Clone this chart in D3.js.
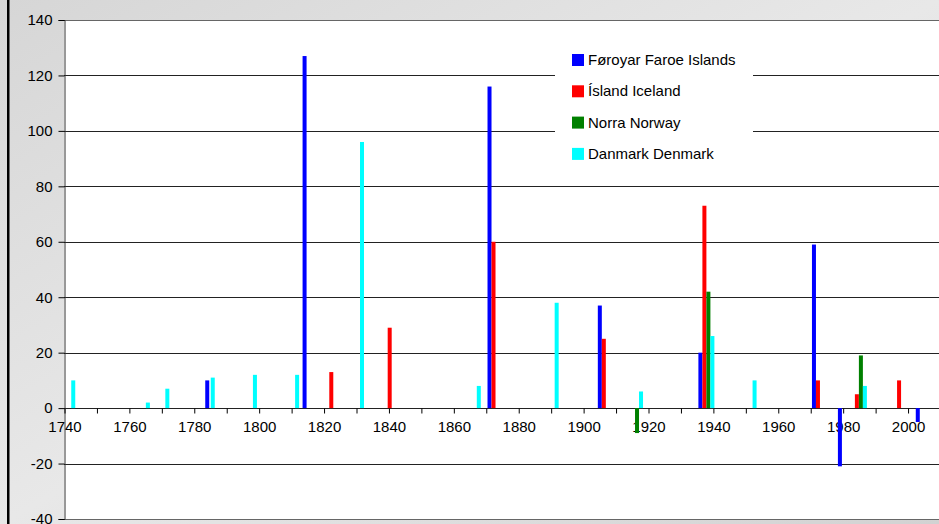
<!DOCTYPE html>
<html>
<head>
<meta charset="utf-8">
<script src="https://cdn.jsdelivr.net/npm/d3@7"></script>
<style>
  body { margin: 0; background: #e4e4e4; }
  svg { display: block; font-family: "Liberation Sans", Arial, sans-serif; }
</style>
</head>
<body>
<svg width="939" height="524"></svg>
<script>
// Data: year and value for each country series
var seriesNames = ["Føroyar Faroe Islands", "Ísland Iceland", "Norra Norway", "Danmark Denmark"];
var seriesColors = ["#0000ff", "#ff0000", "#008000", "#00ffff"];

var faroeYears  = [1786, 1816, 1873, 1907, 1938, 1973, 1981, 2005];
var faroeValues = [10, 127, 116, 37, 20, 59, -21, -5];

var icelandYears  = [1823, 1841, 1873, 1907, 1938, 1973, 1985, 1998];
var icelandValues = [13, 29, 60, 25, 73, 10, 5, 10];

var norwayYears  = [1916, 1938, 1985];
var norwayValues = [-9, 42, 19];

var denmarkYears  = [1741, 1764, 1770, 1784, 1797, 1810, 1830, 1866, 1890, 1916, 1938, 1951, 1985];
var denmarkValues = [10, 2, 7, 11, 12, 12, 96, 8, 38, 6, 26, 10, 8];

var yTicks = [-40, -20, 0, 20, 40, 60, 80, 100, 120, 140];
var xTicks = [1740, 1760, 1780, 1800, 1820, 1840, 1860, 1880, 1900, 1920, 1940, 1960, 1980, 2000];

// Step 1: set up chart
var svgWidth = 939, svgHeight = 524;
var margin = { top: 20, right: -1, bottom: 5, left: 64 };
var width = svgWidth - margin.left - margin.right;
var height = svgHeight - margin.top - margin.bottom;

var svg = d3.select("svg");

// grey backdrop (stands in for the photo behind the chart)
var defs = svg.append("defs");
var grad = defs.append("linearGradient").attr("id", "bg")
    .attr("x1", "0").attr("y1", "0").attr("x2", "1").attr("y2", "1");
grad.append("stop").attr("offset", "0%").attr("stop-color", "#d6d6d6");
grad.append("stop").attr("offset", "50%").attr("stop-color", "#e8e8e8");
grad.append("stop").attr("offset", "100%").attr("stop-color", "#d2d2d2");
svg.append("rect").attr("width", svgWidth).attr("height", svgHeight).attr("fill", "url(#bg)");
svg.append("rect").attr("x", 7).attr("y", 0).attr("width", 2.5).attr("height", svgHeight).attr("fill", "#000");

var chartGroup = svg.append("g")
    .attr("transform", `translate(${margin.left},${margin.top})`);

// Step 2: scales
var xScale = d3.scaleLinear().domain([1740, 2010]).range([0, width]);
var yScale = d3.scaleLinear().domain([-40, 140]).range([height, 0]);

chartGroup.append("rect")
    .attr("width", width).attr("height", height).attr("fill", "#fff");

// gridlines
chartGroup.append("g")
    .selectAll("line")
    .data(yTicks)
    .enter()
    .append("line")
    .attr("x1", 0).attr("x2", width)
    .attr("y1", d => Math.round(yScale(d)) + 0.5)
    .attr("y2", d => Math.round(yScale(d)) + 0.5)
    .attr("stroke", d => (d === 140 || d === -40) ? "#666" : "#222")
    .attr("stroke-width", 1);

// legend box covers the gridlines behind it
var legend = chartGroup.append("g").attr("transform", "translate(491,20)");
legend.append("rect").attr("width", 198).attr("height", 132).attr("fill", "#fff");

// y axis (plain hyphen for negatives, like the original)
var leftAxis = d3.axisLeft(yScale).tickValues(yTicks).tickSize(6).tickPadding(6)
    .tickFormat(d => String(d));
var yAxisG = chartGroup.append("g").attr("transform", "translate(0.5,0)").call(leftAxis);
yAxisG.select(".domain").attr("stroke", "#333");
yAxisG.selectAll(".tick line").attr("stroke", "#000");
yAxisG.selectAll("text").attr("font-size", 15).attr("fill", "#000")
    .attr("font-family", "Liberation Sans, Arial, sans-serif");

// x axis at zero
var xMinor = d3.range(1740, 2011, 10);
var bottomAxis = d3.axisBottom(xScale).tickValues(xMinor).tickSize(5).tickPadding(8)
    .tickFormat(d => xTicks.indexOf(d) >= 0 ? String(d) : "");
var xAxisG = chartGroup.append("g")
    .attr("transform", `translate(0.5,${Math.round(yScale(0)) + 0.5})`)
    .call(bottomAxis);
xAxisG.select(".domain").remove();
xAxisG.selectAll(".tick line").attr("stroke", "#000");
xAxisG.selectAll("text").attr("font-size", 15).attr("fill", "#000")
    .attr("font-family", "Liberation Sans, Arial, sans-serif");

// Step 3: bars, grouped by series with a small side offset
var allSeries = [
  { years: faroeYears, values: faroeValues },
  { years: icelandYears, values: icelandValues },
  { years: norwayYears, values: norwayValues },
  { years: denmarkYears, values: denmarkValues }
];
var barW = 4;
var offsets = [-6, -2, 2, 6];

allSeries.forEach(function(s, i) {
  var pts = s.years.map((y, j) => ({ year: y, value: s.values[j] }));
  chartGroup.append("g")
    .selectAll("rect")
    .data(pts)
    .enter()
    .append("rect")
    .attr("x", d => xScale(d.year) + offsets[i] - barW / 2)
    .attr("width", barW)
    .attr("y", d => yScale(Math.max(0, d.value)))
    .attr("height", d => Math.abs(yScale(d.value) - yScale(0)))
    .attr("fill", seriesColors[i]);
});

// legend entries
seriesNames.forEach(function(name, i) {
  var row = legend.append("g").attr("transform", `translate(17,${i * 31.3 + 20})`);
  row.append("rect").attr("x", 0).attr("y", -6).attr("width", 12).attr("height", 12)
      .attr("fill", seriesColors[i]);
  row.append("text").attr("x", 16).attr("y", 5).attr("font-size", 15).attr("fill", "#000")
      .text(name);
});
</script>
</body>
</html>
